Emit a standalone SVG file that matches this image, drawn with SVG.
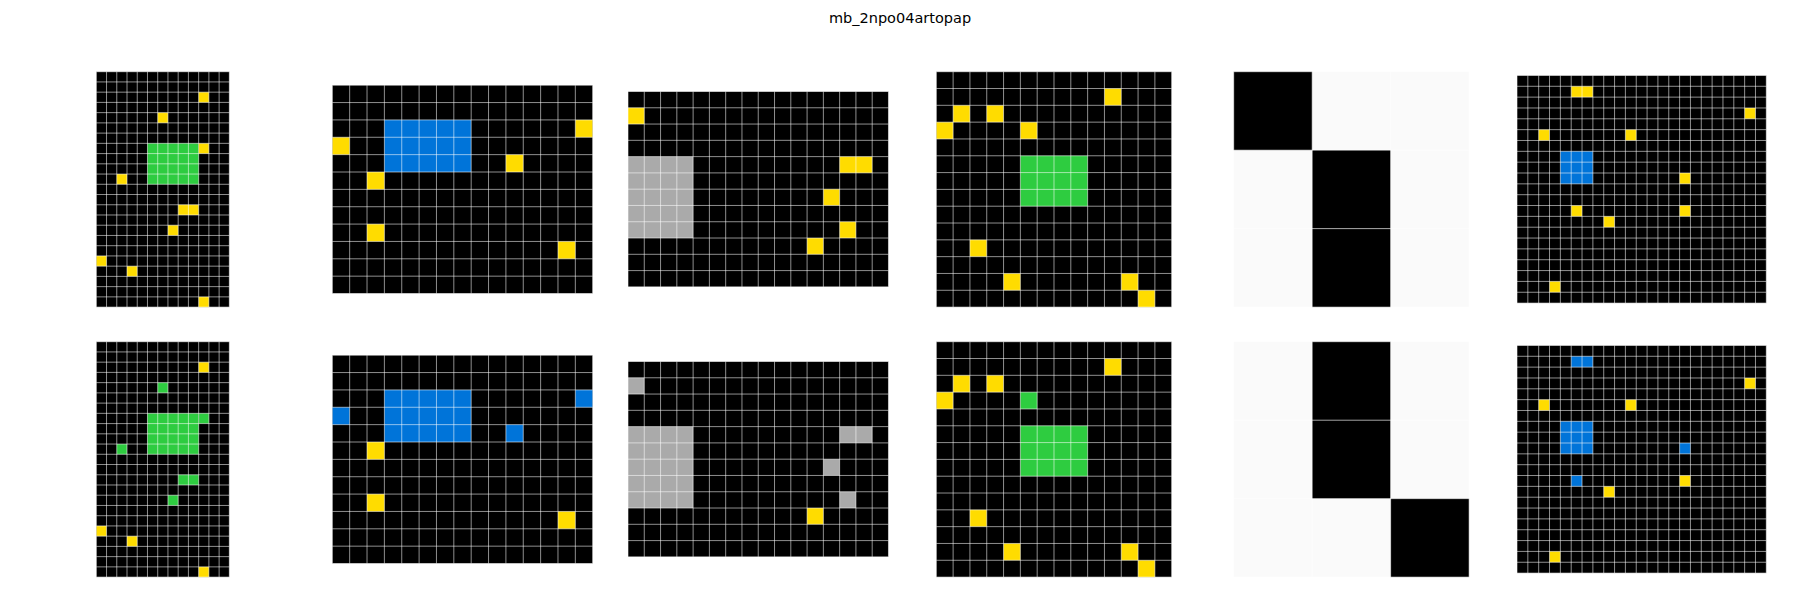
<svg xmlns="http://www.w3.org/2000/svg" xmlns:xlink="http://www.w3.org/1999/xlink" width="1800" height="600" viewBox="0 0 1800 600">
<style>
.k{fill:#000000}.y{fill:#FFDC00}.g{fill:#2ECC40}.b{fill:#0074D9}.s{fill:#AAAAAA}.w{fill:#FAFAFA}
.gl{stroke:#FFFFFF;stroke-opacity:0.7;stroke-width:0.8;fill:none;vector-effect:non-scaling-stroke}
.t{font-family:"DejaVu Sans","Liberation Sans",sans-serif;font-size:14.5px;fill:#000}
</style>
<defs>
<path id="L13x23" class="gl" d="M0 0V23M1 0V23M2 0V23M3 0V23M4 0V23M5 0V23M6 0V23M7 0V23M8 0V23M9 0V23M10 0V23M11 0V23M12 0V23M13 0V23M0 0H13M0 1H13M0 2H13M0 3H13M0 4H13M0 5H13M0 6H13M0 7H13M0 8H13M0 9H13M0 10H13M0 11H13M0 12H13M0 13H13M0 14H13M0 15H13M0 16H13M0 17H13M0 18H13M0 19H13M0 20H13M0 21H13M0 22H13M0 23H13"/>
<path id="L15x12" class="gl" d="M0 0V12M1 0V12M2 0V12M3 0V12M4 0V12M5 0V12M6 0V12M7 0V12M8 0V12M9 0V12M10 0V12M11 0V12M12 0V12M13 0V12M14 0V12M15 0V12M0 0H15M0 1H15M0 2H15M0 3H15M0 4H15M0 5H15M0 6H15M0 7H15M0 8H15M0 9H15M0 10H15M0 11H15M0 12H15"/>
<path id="L16x12" class="gl" d="M0 0V12M1 0V12M2 0V12M3 0V12M4 0V12M5 0V12M6 0V12M7 0V12M8 0V12M9 0V12M10 0V12M11 0V12M12 0V12M13 0V12M14 0V12M15 0V12M16 0V12M0 0H16M0 1H16M0 2H16M0 3H16M0 4H16M0 5H16M0 6H16M0 7H16M0 8H16M0 9H16M0 10H16M0 11H16M0 12H16"/>
<path id="L14x14" class="gl" d="M0 0V14M1 0V14M2 0V14M3 0V14M4 0V14M5 0V14M6 0V14M7 0V14M8 0V14M9 0V14M10 0V14M11 0V14M12 0V14M13 0V14M14 0V14M0 0H14M0 1H14M0 2H14M0 3H14M0 4H14M0 5H14M0 6H14M0 7H14M0 8H14M0 9H14M0 10H14M0 11H14M0 12H14M0 13H14M0 14H14"/>
<path id="L3x3" class="gl" d="M0 0V3M1 0V3M2 0V3M3 0V3M0 0H3M0 1H3M0 2H3M0 3H3"/>
<path id="L23x21" class="gl" d="M0 0V21M1 0V21M2 0V21M3 0V21M4 0V21M5 0V21M6 0V21M7 0V21M8 0V21M9 0V21M10 0V21M11 0V21M12 0V21M13 0V21M14 0V21M15 0V21M16 0V21M17 0V21M18 0V21M19 0V21M20 0V21M21 0V21M22 0V21M23 0V21M0 0H23M0 1H23M0 2H23M0 3H23M0 4H23M0 5H23M0 6H23M0 7H23M0 8H23M0 9H23M0 10H23M0 11H23M0 12H23M0 13H23M0 14H23M0 15H23M0 16H23M0 17H23M0 18H23M0 19H23M0 20H23M0 21H23"/>
</defs>
<rect width="1800" height="600" fill="#ffffff"/>
<text class="t" x="900" y="23" text-anchor="middle">mb_2npo04artopap</text>

<g id="grid1-in" transform="translate(96.3 71.7) scale(10.235)">
<rect class="k" width="13" height="23"/>
<rect class="g" x="5" y="7" width="5" height="4"/>
<rect class="y" x="10" y="2" width="1" height="1"/><rect class="y" x="6" y="4" width="1" height="1"/><rect class="y" x="10" y="7" width="1" height="1"/><rect class="y" x="2" y="10" width="1" height="1"/><rect class="y" x="8" y="13" width="2" height="1"/><rect class="y" x="7" y="15" width="1" height="1"/><rect class="y" x="0" y="18" width="1" height="1"/><rect class="y" x="3" y="19" width="1" height="1"/><rect class="y" x="10" y="22" width="1" height="1"/>
<use xlink:href="#L13x23"/>
</g>
<g id="grid1-out" transform="translate(96.3 341.7) scale(10.235)">
<rect class="k" width="13" height="23"/>
<rect class="g" x="5" y="7" width="5" height="4"/>
<rect class="y" x="10" y="2" width="1" height="1"/><rect class="g" x="6" y="4" width="1" height="1"/><rect class="g" x="10" y="7" width="1" height="1"/><rect class="g" x="2" y="10" width="1" height="1"/><rect class="g" x="8" y="13" width="2" height="1"/><rect class="g" x="7" y="15" width="1" height="1"/><rect class="y" x="0" y="18" width="1" height="1"/><rect class="y" x="3" y="19" width="1" height="1"/><rect class="y" x="10" y="22" width="1" height="1"/>
<use xlink:href="#L13x23"/>
</g>

<g id="grid2-in" transform="translate(332.3 85.2) scale(17.36)">
<rect class="k" width="15" height="12"/>
<rect class="b" x="3" y="2" width="5" height="3"/>
<rect class="y" x="14" y="2" width="1" height="1"/><rect class="y" x="0" y="3" width="1" height="1"/><rect class="y" x="10" y="4" width="1" height="1"/><rect class="y" x="2" y="5" width="1" height="1"/><rect class="y" x="2" y="8" width="1" height="1"/><rect class="y" x="13" y="9" width="1" height="1"/>
<use xlink:href="#L15x12"/>
</g>
<g id="grid2-out" transform="translate(332.3 355.2) scale(17.36)">
<rect class="k" width="15" height="12"/>
<rect class="b" x="3" y="2" width="5" height="3"/>
<rect class="b" x="14" y="2" width="1" height="1"/><rect class="b" x="0" y="3" width="1" height="1"/><rect class="b" x="10" y="4" width="1" height="1"/><rect class="y" x="2" y="5" width="1" height="1"/><rect class="y" x="2" y="8" width="1" height="1"/><rect class="y" x="13" y="9" width="1" height="1"/>
<use xlink:href="#L15x12"/>
</g>

<g id="grid3-in" transform="translate(628 91.5) scale(16.28)">
<rect class="k" width="16" height="12"/>
<rect class="s" x="0" y="4" width="4" height="5"/>
<rect class="y" x="0" y="1" width="1" height="1"/><rect class="y" x="13" y="4" width="2" height="1"/><rect class="y" x="12" y="6" width="1" height="1"/><rect class="y" x="13" y="8" width="1" height="1"/><rect class="y" x="11" y="9" width="1" height="1"/>
<use xlink:href="#L16x12"/>
</g>
<g id="grid3-out" transform="translate(628 361.5) scale(16.28)">
<rect class="k" width="16" height="12"/>
<rect class="s" x="0" y="4" width="4" height="5"/>
<rect class="s" x="0" y="1" width="1" height="1"/><rect class="s" x="13" y="4" width="2" height="1"/><rect class="s" x="12" y="6" width="1" height="1"/><rect class="s" x="13" y="8" width="1" height="1"/><rect class="y" x="11" y="9" width="1" height="1"/>
<use xlink:href="#L16x12"/>
</g>

<g id="grid4-in" transform="translate(936.3 71.7) scale(16.814)">
<rect class="k" width="14" height="14"/>
<rect class="g" x="5" y="5" width="4" height="3"/>
<rect class="y" x="10" y="1" width="1" height="1"/><rect class="y" x="1" y="2" width="1" height="1"/><rect class="y" x="3" y="2" width="1" height="1"/><rect class="y" x="0" y="3" width="1" height="1"/><rect class="y" x="5" y="3" width="1" height="1"/><rect class="y" x="2" y="10" width="1" height="1"/><rect class="y" x="4" y="12" width="1" height="1"/><rect class="y" x="11" y="12" width="1" height="1"/><rect class="y" x="12" y="13" width="1" height="1"/>
<use xlink:href="#L14x14"/>
</g>
<g id="grid4-out" transform="translate(936.3 341.7) scale(16.814)">
<rect class="k" width="14" height="14"/>
<rect class="g" x="5" y="5" width="4" height="3"/>
<rect class="y" x="10" y="1" width="1" height="1"/><rect class="y" x="1" y="2" width="1" height="1"/><rect class="y" x="3" y="2" width="1" height="1"/><rect class="y" x="0" y="3" width="1" height="1"/><rect class="g" x="5" y="3" width="1" height="1"/><rect class="y" x="2" y="10" width="1" height="1"/><rect class="y" x="4" y="12" width="1" height="1"/><rect class="y" x="11" y="12" width="1" height="1"/><rect class="y" x="12" y="13" width="1" height="1"/>
<use xlink:href="#L14x14"/>
</g>

<g id="grid5-in" transform="translate(1233.7 71.7) scale(78.47)">
<rect class="w" width="3" height="3"/>
<rect class="k" x="0" y="0" width="1" height="1"/><rect class="k" x="1" y="1" width="1" height="1"/><rect class="k" x="1" y="2" width="1" height="1"/>
<use xlink:href="#L3x3"/>
</g>
<g id="grid5-out" transform="translate(1233.7 341.7) scale(78.47)">
<rect class="w" width="3" height="3"/>
<rect class="k" x="1" y="0" width="1" height="1"/><rect class="k" x="1" y="1" width="1" height="1"/><rect class="k" x="2" y="2" width="1" height="1"/>
<use xlink:href="#L3x3"/>
</g>

<g id="grid6-in" transform="translate(1517 75.45) scale(10.84)">
<rect class="k" width="23" height="21"/>
<rect class="b" x="4" y="7" width="3" height="3"/>
<rect class="y" x="5" y="1" width="2" height="1"/><rect class="y" x="21" y="3" width="1" height="1"/><rect class="y" x="2" y="5" width="1" height="1"/><rect class="y" x="10" y="5" width="1" height="1"/><rect class="y" x="15" y="9" width="1" height="1"/><rect class="y" x="5" y="12" width="1" height="1"/><rect class="y" x="15" y="12" width="1" height="1"/><rect class="y" x="8" y="13" width="1" height="1"/><rect class="y" x="3" y="19" width="1" height="1"/>
<use xlink:href="#L23x21"/>
</g>
<g id="grid6-out" transform="translate(1517 345.45) scale(10.84)">
<rect class="k" width="23" height="21"/>
<rect class="b" x="4" y="7" width="3" height="3"/>
<rect class="b" x="5" y="1" width="2" height="1"/><rect class="y" x="21" y="3" width="1" height="1"/><rect class="y" x="2" y="5" width="1" height="1"/><rect class="y" x="10" y="5" width="1" height="1"/><rect class="b" x="15" y="9" width="1" height="1"/><rect class="b" x="5" y="12" width="1" height="1"/><rect class="y" x="15" y="12" width="1" height="1"/><rect class="y" x="8" y="13" width="1" height="1"/><rect class="y" x="3" y="19" width="1" height="1"/>
<use xlink:href="#L23x21"/>
</g>
</svg>
